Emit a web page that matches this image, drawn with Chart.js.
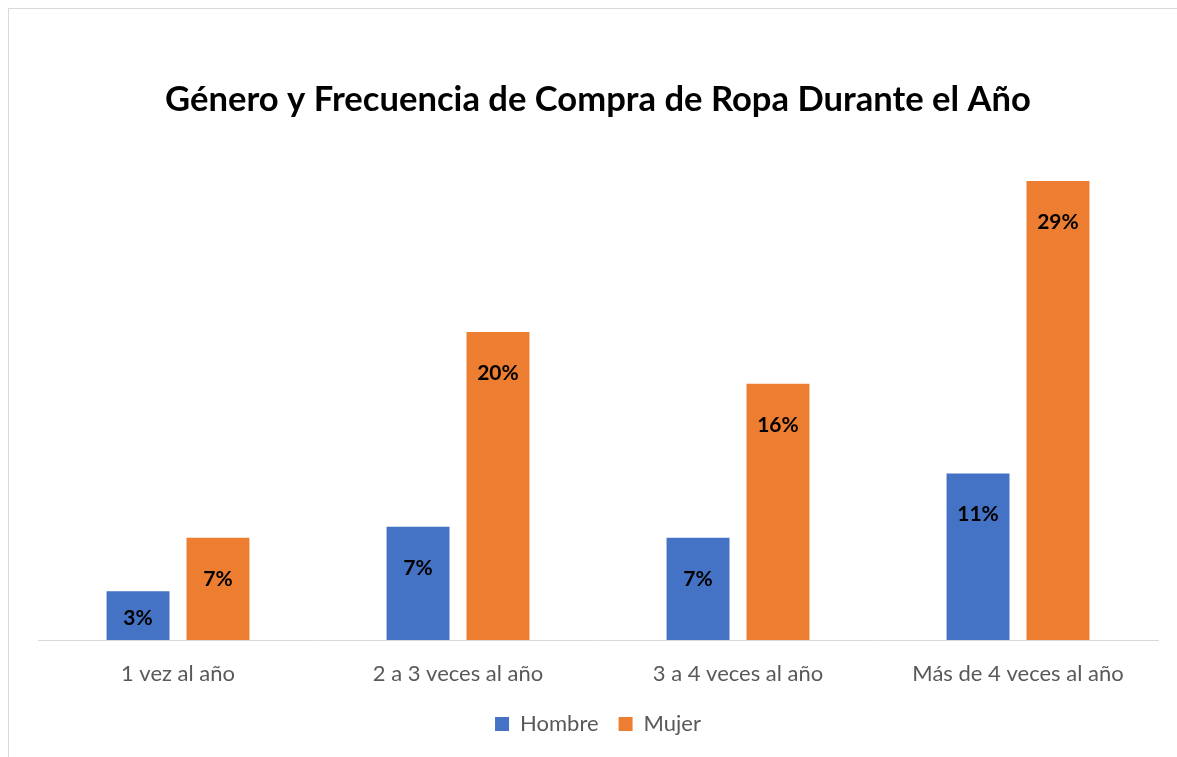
<!DOCTYPE html>
<html>
<head>
<meta charset="utf-8">
<script src="https://cdn.jsdelivr.net/npm/chart.js@4.4.1/dist/chart.umd.min.js"></script>
<style>
  html, body { margin: 0; padding: 0; background: #fff; }
  #wrap { position: relative; width: 1177px; height: 757px; overflow: hidden; }
  #frame { position: absolute; left: 8px; top: 8px; width: 1300px; height: 900px;
           border-left: 1px solid #d9d9d9; border-top: 1px solid #d9d9d9; }
  canvas { position: absolute; left: 0; top: 0; }
</style>
</head>
<body>
<div id="wrap">
  <div id="frame"></div>
  <canvas id="chart" width="1177" height="757"></canvas>
</div>
<script>
// ---- data (percent) ----
const categories = ['1 vez al año', '2 a 3 veces al año', '3 a 4 veces al año', 'Más de 4 veces al año'];
const hombre = [3.1, 7.2, 6.5, 10.6];
const mujer = [6.5, 19.6, 16.3, 29.2];
const seriesNames = ['Hombre', 'Mujer'];
const colors = ['#4472C4', '#ED7D31'];

const FONT = "Lato, 'Open Sans', sans-serif";

// draws the value labels just inside the top of each bar
const barLabels = {
  id: 'barLabels',
  afterDatasetsDraw(chart) {
    const ctx = chart.ctx;
    ctx.save();
    ctx.font = 'bold 21px ' + FONT;
    ctx.fillStyle = '#000';
    ctx.textAlign = 'center';
    ctx.textBaseline = 'middle';
    chart.data.datasets.forEach((ds, i) => {
      chart.getDatasetMeta(i).data.forEach((bar, j) => {
        const h = bar.base - bar.y;
        const y = bar.y + Math.min(41, h / 2 + 3);
        ctx.fillText(Math.round(ds.data[j]) + '%', bar.x, y);
      });
    });
    ctx.restore();
  },
};

new Chart(document.getElementById('chart'), {
  type: 'bar',
  data: {
    labels: categories,
    datasets: [
      { label: seriesNames[0], data: hombre, backgroundColor: colors[0] },
      { label: seriesNames[1], data: mujer, backgroundColor: colors[1] },
    ],
  },
  options: {
    responsive: false,
    animation: false,
    layout: { padding: { left: 38, right: 19, top: 60, bottom: 12 } },
    categoryPercentage: 0.571,
    barPercentage: 0.7875,
    scales: {
      x: {
        grid: { display: false },
        border: { display: true, color: '#d9d9d9', width: 1 },
        ticks: { color: '#595959', font: { family: FONT, size: 22 }, padding: 13 },
        afterFit: (s) => { s.height = 53; },
      },
      y: { display: false, min: 0, max: 30 },
    },
    plugins: {
      title: {
        display: true,
        text: 'Género y Frecuencia de Compra de Ropa Durante el Año',
        color: '#000',
        font: { family: FONT, size: 34.6, weight: 'bold' },
        padding: { top: 19, bottom: 48 },
      },
      legend: {
        position: 'bottom',
        labels: {
          color: '#595959',
          font: { family: FONT, size: 22 },
          boxWidth: 14, boxHeight: 14, padding: 20,
        },
      },
      tooltip: { enabled: false },
    },
  },
  plugins: [barLabels],
});
</script>
</body>
</html>
